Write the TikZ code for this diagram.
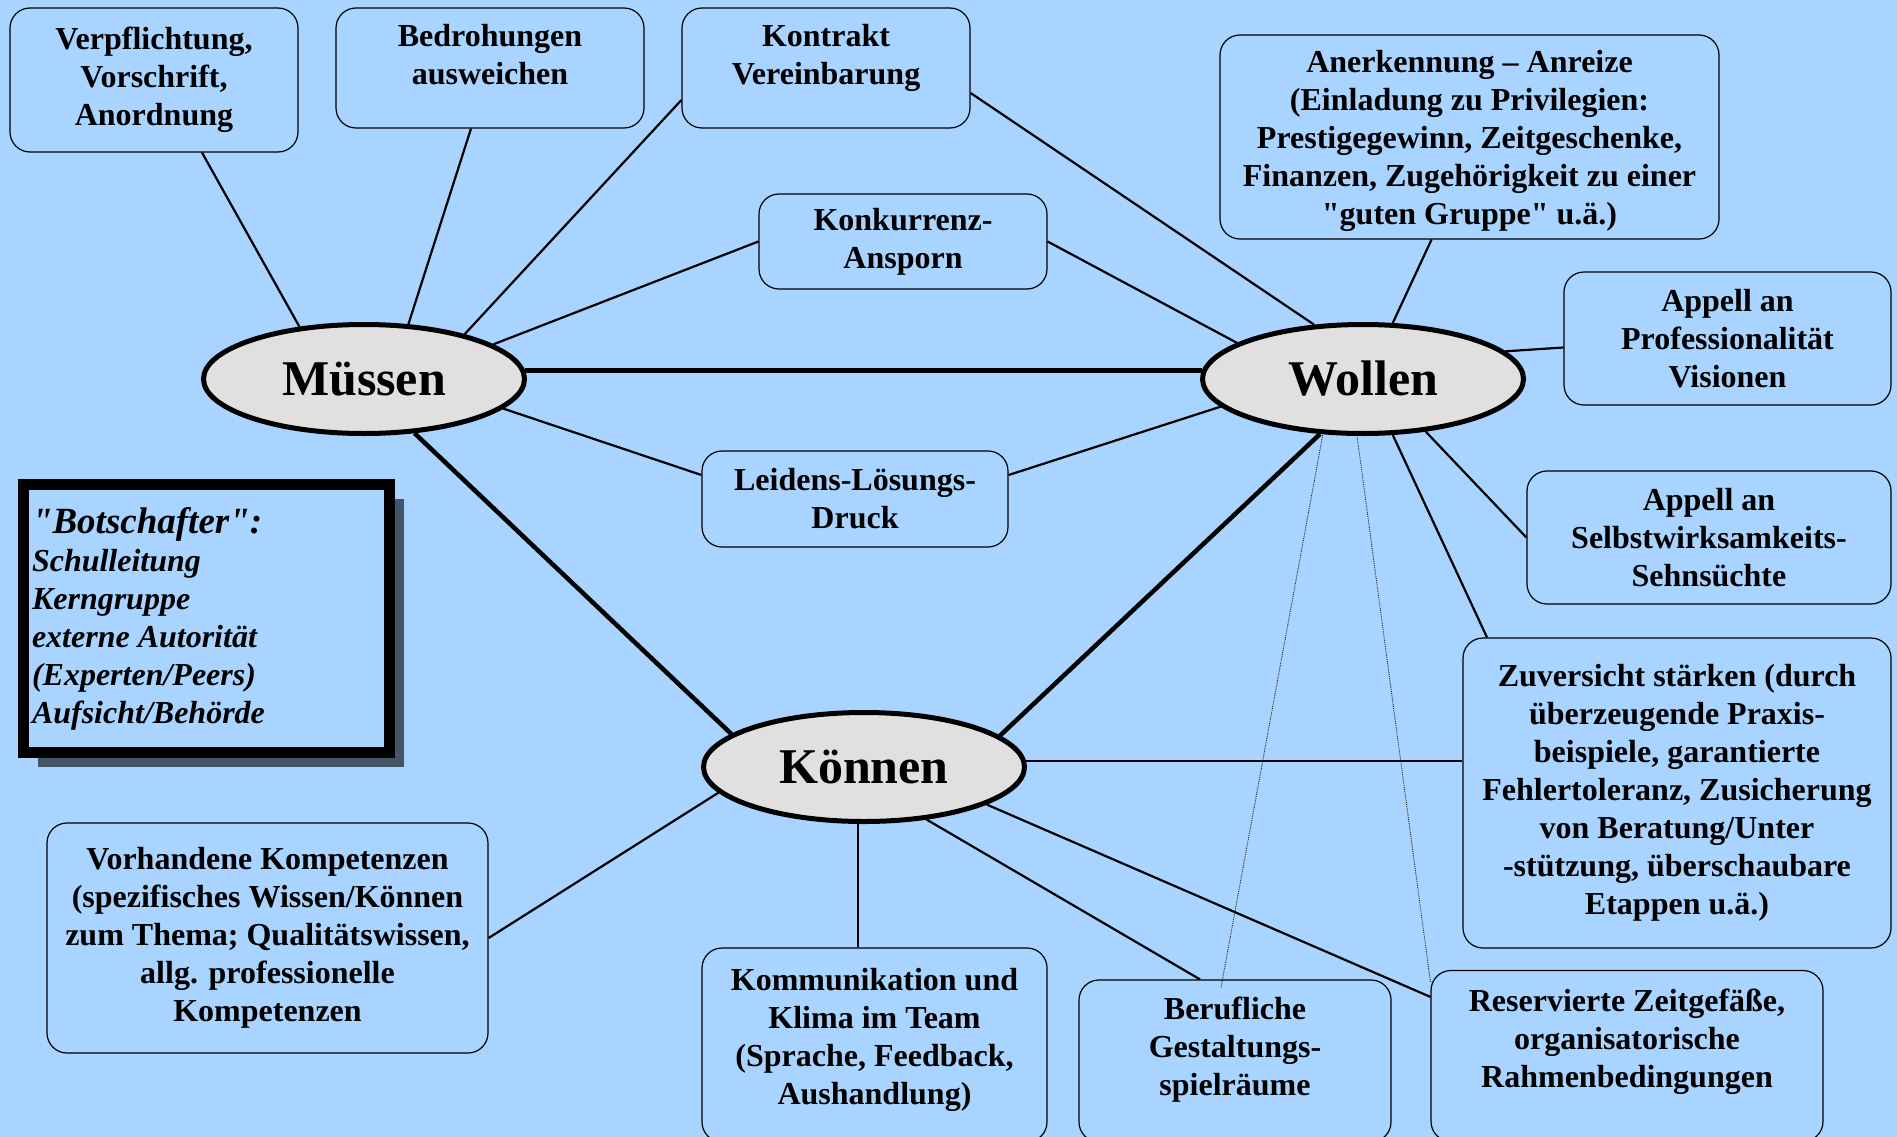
\documentclass[tikz,border=0pt]{standalone}
\usepackage{fontspec}
\setmainfont{Liberation Serif}
\usepackage{tikz}
\usetikzlibrary{shapes.geometric,shadows,calc}
\definecolor{bgblue}{HTML}{A8D4FF}
\definecolor{ellgray}{HTML}{E0E0E0}
\tikzset{
  box/.style={rectangle,rounded corners=20pt,draw=black,fill=bgblue,line width=1.2pt,
    align=center,text=black,font=\bfseries\fontsize{32}{38}\selectfont,inner sep=4pt},
  lift/.style={text depth=#1},
  pole/.style={ellipse,draw=black,fill=ellgray,line width=5pt,minimum width=321pt,
    minimum height=109pt,font=\bfseries\fontsize{50}{56}\selectfont},
  link/.style={line width=2.2pt,black},
  main/.style={line width=4.5pt,black},
  dots/.style={densely dotted,line width=0.9pt,black!85},
}
\begin{document}
\begin{tikzpicture}[x=1pt,y=-1pt]
  \useasboundingbox (0,0) rectangle (1897,1137);
  \clip (0,0) rectangle (1897,1137);
  \fill[bgblue] (0,0) rectangle (1897,1137);
  % outer boxes
  \node[box,minimum width=288pt,minimum height=144pt] (verpf) at (154,80)
    {Verpflichtung,\\Vorschrift,\\Anordnung};
  \node[box,lift=28pt,minimum width=308pt,minimum height=120pt] (bedroh) at (490,68)
    {Bedrohungen\\ausweichen};
  \node[box,lift=28pt,minimum width=288pt,minimum height=120pt] (kontrakt) at (826,68)
    {Kontrakt\\Vereinbarung};
  \node[box,minimum width=288pt,minimum height=95pt] (konkur) at (903,241.5)
    {Konkurrenz-\\Ansporn};
  \node[box,minimum width=306pt,minimum height=96pt] (leidens) at (855,499)
    {Leidens-Lösungs-\\Druck};
  \node[box,lift=0pt,minimum width=499pt,minimum height=204pt] (anerk) at (1469.5,137)
    {Anerkennung – Anreize\\(Einladung zu Privilegien:\\Prestigegewinn, Zeitgeschenke,\\
     Finanzen, Zugehörigkeit zu einer\\\textquotedbl guten Gruppe\textquotedbl{} u.ä.)};
  \node[box,minimum width=327pt,minimum height=133pt] (profess) at (1727.5,338.5)
    {Appell an\\Professionalität\\Visionen};
  \node[box,minimum width=364pt,minimum height=133pt] (selbst) at (1709,537.5)
    {Appell an\\Selbstwirksamkeits-\\Sehnsüchte};
  \node[box,minimum width=428pt,minimum height=310pt] (zuver) at (1677,793)
    {Zuversicht stärken (durch\\überzeugende Praxis-\\beispiele, garantierte\\
     Fehlertoleranz, Zusicherung\\von Beratung/Unter\\-stützung, überschaubare\\Etappen u.ä.)};
  \node[box,lift=36pt,minimum width=392pt,minimum height=171pt] (reserv) at (1627,1056)
    {Reservierte Zeitgefäße,\\organisatorische\\Rahmenbedingungen};
  \node[box,lift=30pt,minimum width=312pt,minimum height=162pt] (beruf) at (1235,1061)
    {Berufliche\\Gestaltungs-\\spielräume};
  \node[box,lift=18pt,minimum width=345pt,minimum height=194pt] (komm) at (874.5,1045)
    {Kommunikation und\\Klima im Team\\(Sprache, Feedback,\\Aushandlung)};
  \node[box,minimum width=441pt,minimum height=230pt] (vorh) at (267.5,938)
    {Vorhandene Kompetenzen\\(spezifisches Wissen/Können\\zum Thema; Qualitätswissen,\\
     allg. professionelle\\Kompetenzen};
  % Botschafter
  \node[rectangle,draw=black,fill=bgblue,line width=11pt,minimum width=366pt,minimum height=268pt,
    text width=349pt,inner xsep=8.5pt,align=flush left,font=\bfseries\itshape\fontsize{32}{38}\selectfont,
    drop shadow={shadow xshift=14pt,shadow yshift=-14pt,opacity=0.6,fill=black}] (botsch) at (206.5,618.5)
    {{\fontsize{37}{40}\selectfont\textquotedbl Botschafter\textquotedbl:}\\Schulleitung\\Kerngruppe\\
     externe Autorität\\(Experten/Peers)\\Aufsicht/Behörde};
  % poles
  \node[pole] (mus) at (364,379) {Müssen};
  \node[pole] (wol) at (1363,379) {Wollen};
  \node[pole] (kon) at (864,767) {Können};
  % Müssen
  \draw[link] ([xshift=48pt]verpf.south) -- (mus.141);
  \draw[link] ([xshift=-19pt]bedroh.south) -- (mus.51);
  \draw[link] ([yshift=-32pt]kontrakt.west) -- (mus.24);
  \draw[link] (konkur.west) -- (mus.15);
  \draw[link] ([yshift=24pt]leidens.west) -- (mus.-12);
  % Wollen
  \draw[link] ([yshift=-25pt]kontrakt.east) -- (wol.132);
  \draw[link] (konkur.east) -- (wol.164);
  \draw[link] ([yshift=24pt]leidens.east) -- (wol.191);
  \draw[link] ([xshift=-38pt]anerk.south) -- (wol.62);
  \draw[link] ([yshift=-9pt]profess.west) -- (wol.11);
  \draw[link] (selbst.west) -- (wol.-40);
  \draw[link] ([xshift=-190pt]zuver.north) -- (wol.-62);
  \draw[dots] ([xshift=-14pt,yshift=-8pt]beruf.north) -- (wol.-126);
  \draw[dots] ([yshift=-12pt]reserv.north west) -- (wol.-96);
  % Können
  \draw[link] (kon.2) -- (kon.2 -| zuver.west);
  \draw[link] (kon.190) -- (vorh.east);
  \draw[link] (komm.north -| kon.-96) -- (kon.-96);
  \draw[link] ([xshift=-35pt]beruf.north) -- (kon.-40);
  \draw[link] ([yshift=-27pt]reserv.north west) -- (kon.-17);
  % triangle
  \draw[main] (mus.3) -- (wol.177);
  \draw[main] (mus.-47) -- (kon.166);
  \draw[main] (wol.-128) -- (kon.13);
\end{tikzpicture}
\end{document}
